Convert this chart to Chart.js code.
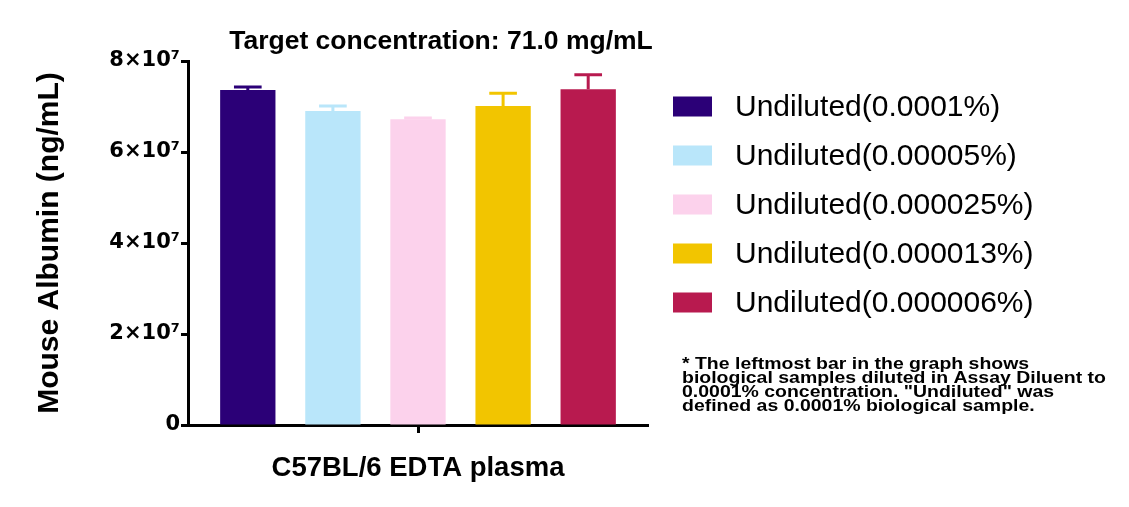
<!DOCTYPE html>
<html>
<head>
<meta charset="utf-8">
<script src="https://cdn.jsdelivr.net/npm/chart.js@4"></script>
<style>
  html, body { margin: 0; padding: 0; background: #fff; }
</style>
</head>
<body>
<canvas id="albumin" width="1129" height="507"></canvas>
<script>
const categories = ["C57BL/6 EDTA plasma"];
const seriesLabels = [
  "Undiluted(0.0001%)",
  "Undiluted(0.00005%)",
  "Undiluted(0.000025%)",
  "Undiluted(0.000013%)",
  "Undiluted(0.000006%)"
];
const means = [7.36e7, 6.90e7, 6.72e7, 7.01e7, 7.38e7];
const errors = [0.07e7, 0.11e7, 0.03e7, 0.28e7, 0.32e7];
const colors = ["#2b0077", "#b9e6fa", "#fcd2ec", "#f2c500", "#b81a4f"];
const yTicks = [0, 2e7, 4e7, 6e7, 8e7];
const titleText = "Target concentration: 71.0 mg/mL";
const noteLines = [
  "* The leftmost bar in the graph shows",
  "biological samples diluted in Assay Diluent to",
  "0.0001% concentration. \"Undiluted\" was",
  "defined as 0.0001% biological sample."
];

const FONT = "'Liberation Sans', Arial, sans-serif";

// error bars, only upward, cap half as wide as the bar
const errorBars = {
  id: "errorBars",
  afterDatasetsDraw(chart) {
    const ctx = chart.ctx;
    const y = chart.scales.y;
    ctx.save();
    ctx.lineWidth = 3;
    chart.data.datasets.forEach((ds, i) => {
      const bar = chart.getDatasetMeta(i).data[0];
      const top = y.getPixelForValue(means[i] + errors[i]);
      const half = bar.width / 4;
      ctx.strokeStyle = colors[i];
      ctx.beginPath();
      ctx.moveTo(bar.x, bar.y);
      ctx.lineTo(bar.x, top);
      ctx.moveTo(bar.x - half, top);
      ctx.lineTo(bar.x + half, top);
      ctx.stroke();
    });
    ctx.restore();
  }
};

// title, legend on the right and footnote
const sideText = {
  id: "sideText",
  afterDraw(chart) {
    const ctx = chart.ctx;
    ctx.save();
    ctx.fillStyle = "#000";
    ctx.textAlign = "center";
    ctx.textBaseline = "alphabetic";
    ctx.font = "bold 26.5px " + FONT;
    ctx.fillText(titleText, 441, 49);

    ctx.textAlign = "left";
    ctx.textBaseline = "middle";
    ctx.font = "30px " + FONT;
    chart.data.datasets.forEach((ds, i) => {
      const cy = 106.5 + i * 49;
      ctx.fillStyle = ds.backgroundColor;
      ctx.fillRect(673, cy - 10, 39, 20);
      ctx.fillStyle = "#000";
      ctx.fillText(ds.label, 735, cy + 1);
    });

    // footnote text is wider than plain Arial bold
    ctx.textBaseline = "alphabetic";
    ctx.font = "bold 17px " + FONT;
    noteLines.forEach((line, i) => {
      ctx.save();
      ctx.translate(682, 369 + i * 14);
      ctx.scale(1.145, 1);
      ctx.fillText(line, 0, 0);
      ctx.restore();
    });
    ctx.restore();
  }
};

new Chart(document.getElementById("albumin"), {
  type: "bar",
  data: {
    labels: categories,
    datasets: seriesLabels.map((label, i) => ({
      label: label,
      data: [means[i]],
      backgroundColor: colors[i],
      borderWidth: 0,
      categoryPercentage: 0.925,
      barPercentage: 0.65
    }))
  },
  options: {
    responsive: false,
    animation: false,
    devicePixelRatio: 1,
    layout: { padding: { top: 61, right: 481, left: 0, bottom: 0 } },
    plugins: {
      legend: { display: false },
      tooltip: { enabled: false }
    },
    scales: {
      x: {
        grid: {
          display: true,
          offset: false,
          drawOnChartArea: false,
          drawTicks: true,
          tickLength: 8,
          tickWidth: 3,
          tickColor: "#000"
        },
        border: { display: true, color: "#000", width: 3 },
        ticks: { display: false },
        title: {
          display: true,
          text: categories[0],
          color: "#000",
          font: { family: FONT, size: 27.5, weight: "bold" },
          padding: { top: 0, bottom: 22 }
        },
        afterFit(scale) { scale.height = 82; }
      },
      y: {
        min: 0,
        max: 8e7,
        afterBuildTicks(scale) { scale.ticks = yTicks.map(v => ({ value: v })); },
        grid: {
          display: true,
          drawOnChartArea: false,
          drawTicks: true,
          tickLength: 7,
          tickWidth: 3,
          tickColor: "#000"
        },
        border: { display: true, color: "#000", width: 3 },
        ticks: {
          color: "#000",
          padding: 1,
          font: { family: "'DejaVu Sans', sans-serif", size: 21, weight: "bold" },
          callback: v => v === 0 ? "0" : (v / 1e7) + "×10⁷"
        },
        title: {
          display: true,
          text: "Mouse Albumin (ng/mL)",
          color: "#000",
          font: { family: FONT, size: 30, weight: "bold" },
          padding: { top: 32, bottom: 0 }
        },
        afterFit(scale) { scale.width = 188; }
      }
    }
  },
  plugins: [errorBars, sideText]
});
</script>
</body>
</html>
